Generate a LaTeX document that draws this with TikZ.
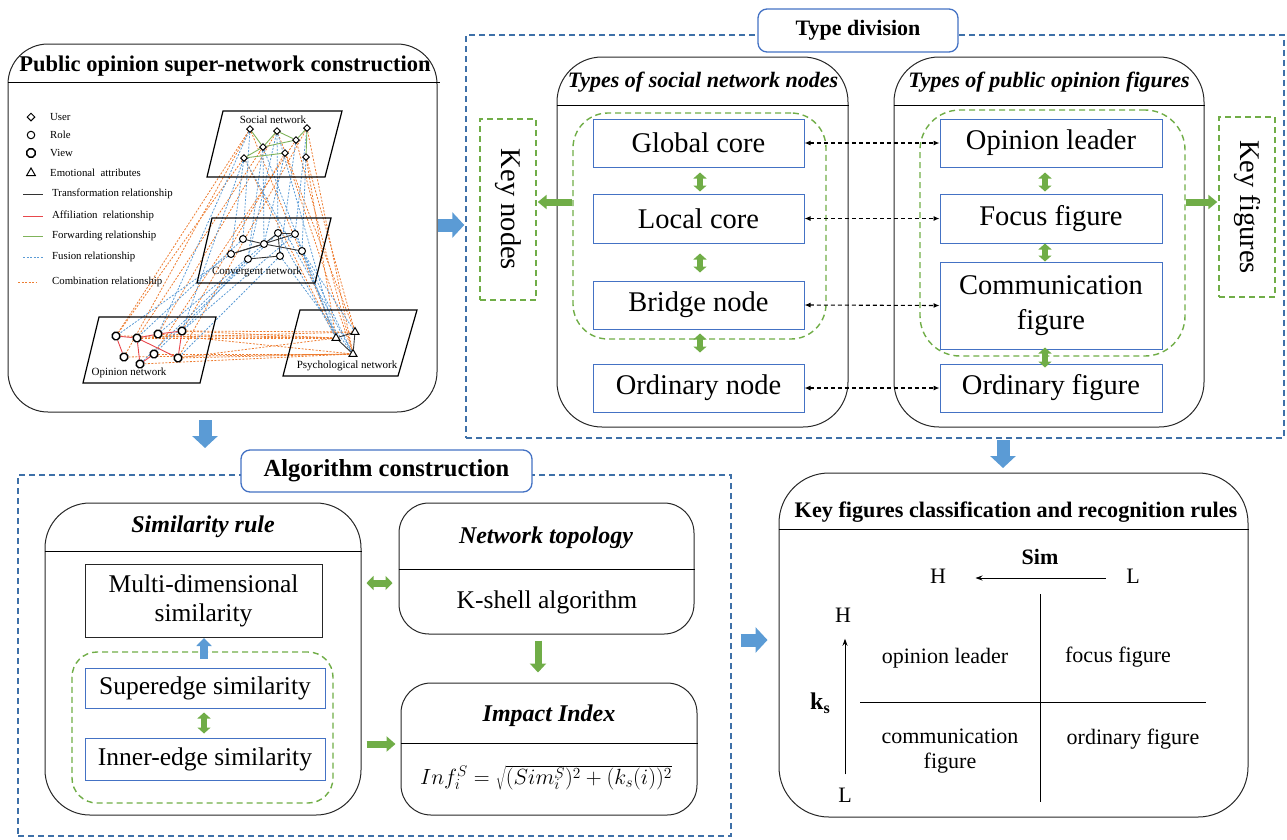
\RequirePackage{fix-cm}
\documentclass[tikz,border=0pt]{standalone}
\usepackage{fontspec}
\setmainfont{Liberation Serif}
\usetikzlibrary{shapes.geometric,arrows.meta,calc,backgrounds}

\definecolor{boxblue}{HTML}{4472C4}
\definecolor{frameblue}{HTML}{3E70A8}
\definecolor{fillblue}{HTML}{5B9BD5}
\definecolor{fillgreen}{HTML}{70AD47}
\definecolor{zonegreen}{HTML}{70AD47}
\definecolor{combo}{HTML}{ED7D31}
\definecolor{fusion}{HTML}{5B9BD5}
\definecolor{affil}{HTML}{E8474C}
\definecolor{forward}{HTML}{7FB35A}

\newcommand\szBox{\fontsize{28.5}{35}\selectfont}
\newcommand\szAlgBox{\fontsize{25.5}{29}\selectfont}
\newcommand\szAlgHead{\fontsize{24}{28}\selectfont}
\newcommand\szPanelHead{\fontsize{22}{26}\selectfont}
\newcommand\szQuad{\fontsize{22}{25}\selectfont}
\newcommand\szNet{\fontsize{11}{13}\selectfont}
\newcommand\szLegend{\fontsize{10.8}{13}\selectfont}

\begin{document}
\begin{tikzpicture}[x=1pt,y=-1pt,
  panel/.style={draw=black!85, line width=1pt, rounded corners=#1, inner sep=0pt},
  bluebox/.style={draw=boxblue, line width=1pt, fill=white, inner sep=0pt, align=center, font=\szBox},
  algbox/.style={line width=1pt, fill=white, inner sep=0pt, align=center, font=\szAlgBox},
  greenzone/.style={draw=zonegreen, line width=1.4pt, dash pattern=on 6pt off 4pt, rounded corners=#1, inner sep=0pt},
  bluezone/.style={draw=frameblue, line width=1.4pt, dash pattern=on 6pt off 4pt, inner sep=0pt},
  headlabel/.style={draw=boxblue, line width=1.3pt, fill=white, rounded corners=9pt, inner sep=0pt},
  bluearrow/.style={draw=fillblue, line width=13pt, -{Triangle[width=25pt,length=12pt]}},
  greenarrow/.style={draw=fillgreen, line width=7pt, -{Triangle[width=14pt,length=8pt]}},
  greendouble/.style={draw=fillgreen, line width=6pt, {Triangle[width=13pt,length=6pt]}-{Triangle[width=13pt,length=6pt]}},
  linkarrow/.style={draw=black, line width=1.1pt, dash pattern=on 4pt off 3pt, {Latex[length=6pt,width=5pt]}-{Latex[length=6pt,width=5pt]}},
  planeedge/.style={draw=black, line width=1.2pt},
  usermark/.style={diamond, draw, line width=1pt, fill=white, inner sep=0pt, minimum size=8pt},
  rolemark/.style={circle, draw, line width=1pt, fill=white, inner sep=0pt, minimum size=7.5pt},
  viewmark/.style={regular polygon, regular polygon sides=8, draw, line width=1.4pt, fill=white, inner sep=0pt, minimum size=9pt},
  emomark/.style={regular polygon, regular polygon sides=3, draw, line width=1pt, fill=white, inner sep=0pt, minimum size=10pt},
  combline/.style={draw=combo, line width=0.8pt, dash pattern=on 2pt off 1.5pt},
  fusionline/.style={draw=fusion, line width=0.8pt, dash pattern=on 2pt off 1.5pt},
]
\useasboundingbox (0,0) rectangle (1287,839);

% ================= super-network construction =================
\node[panel=40pt, minimum width=429pt, minimum height=368pt] (P1) at (222.5,228) {};
\draw[line width=1pt] ($(P1.north west)+(0,39)$) -- ($(P1.north east)+(2,39)$);
\node[font=\fontsize{22.5}{26}\selectfont\bfseries] (P1t) at (225,66) {Public opinion super-network construction};

% legend
\node[usermark] (LU) at (31,117) {};
\node[rolemark] (LR) at (31,135) {};
\node[viewmark] (LV) at (31,153) {};
\node[emomark] (LE) at (31,173) {};
\foreach \t/\y [count=\i] in {User/117, Role/135, View/153, Emotional\ \ attributes/173}
  \node[anchor=west, font=\szLegend, inner sep=0pt] (LT\i) at (50,\y) {\t};
\draw[line width=1pt, black!80] (23,194) -- (43,194);
\draw[line width=1pt, affil] (23,216) -- (43,216);
\draw[line width=1pt, forward] (23,236) -- (43,236);
\draw[fusionline] (23,257) -- (43,257);
\draw[combline] (18,282) -- (37,282);
\foreach \t/\y [count=\i from 5] in {Transformation relationship/194, Affiliation\ \ relationship/216, Forwarding relationship/236, Fusion relationship/257, Combination relationship/282}
  \node[anchor=west, font=\szLegend, inner sep=0pt] (LT\i) at (52,\y) {\t};

% network planes
\draw[planeedge] (223,111) -- (342,111) -- (325,177) -- (207,177) -- cycle;
\draw[planeedge] (212,218) -- (331,218) -- (315,283) -- (197,283) -- cycle;
\draw[planeedge] (99,317) -- (216,317) -- (200,383) -- (83,383) -- cycle;
\draw[planeedge] (300,310) -- (417,310) -- (398,376) -- (283,376) -- cycle;
\node[font=\szNet] (Ls) at (273,120) {Social network};
\node[font=\szNet] (Lc) at (257,272) {Convergent network};
\node[font=\szNet] (Lo) at (129,373) {Opinion network};
\node[font=\szNet] (Lp) at (347,366) {Psychological network};

% network nodes
\foreach \n/\x/\y in {S1/250/129, S2/277/131, S3/307/128, S4/296/140, S5/263/147, S6/285/153, S7/244/158, S8/306/157}
  \node[usermark, minimum size=7pt] (\n) at (\x,\y) {};
\foreach \n/\x/\y in {C1/243/239, C2/264/244, C3/278/233, C4/295/234, C5/231/254, C6/248/259, C7/280/256, C8/302/251}
  \node[rolemark, minimum size=7pt] (\n) at (\x,\y) {};
\foreach \n/\x/\y in {O1/116/336, O2/137/338, O3/158/334, O4/182/331, O5/124/357, O6/154/354, O7/140/364, O8/178/358}
  \node[viewmark, minimum size=8pt] (\n) at (\x,\y) {};
\foreach \n/\x/\y in {P1n/336/338, P2n/355/332, P3n/353/354}
  \node[emomark, minimum size=9pt] (\n) at (\x,\y) {};

\begin{pgfonlayer}{background}
  % combination relationships
  \foreach \a/\b in {S7/O1, S1/O1, S5/O2, S2/O3, S6/O4, S4/O6, S3/O8, S1/O5,
                     S1/P1n, S2/P2n, S3/P3n, S8/P1n, S8/P2n, S6/P3n, S4/P3n, S7/P1n,
                     O1/P1n, O2/P2n, O3/P1n, O4/P2n, O4/P1n, O8/P1n, O8/P3n, O6/P3n,
                     O7/P3n, O3/P3n, O2/P1n, O5/P3n}
    \draw[combline] (\a) -- (\b);
  % fusion relationships
  \foreach \a/\b in {S1/C1, S2/C3, S3/C4, S4/C7, S5/C2, S6/C2, S7/C5, S8/C8, S5/C6, S2/C6,
                     C1/O2, C2/O3, C5/O1, C6/O4, C3/O6, C7/O8, C4/O4, C6/O7,
                     C4/P1n, C8/P2n, C3/P1n, C7/P3n, C8/P3n,
                     S2/P1n, S5/P1n, S7/P3n, S1/O3, S7/O4}
    \draw[fusionline] (\a) -- (\b);
  % forwarding relationships
  \foreach \a/\b in {S1/S5, S2/S5, S2/S4, S5/S4, S4/S3, S3/S8, S7/S6, S7/S5}
    \draw[forward, line width=0.9pt] (\a) -- (\b);
  % transformation relationships
  \foreach \a/\b in {C1/C2, C2/C3, C3/C4, C3/C7, C5/C4, C6/C7, C2/C8, C5/C2, P1n/P2n, P2n/P3n, P1n/P3n}
    \draw[black!80, line width=0.9pt] (\a) -- (\b);
  % affiliation relationships
  \foreach \a/\b in {O1/O2, O1/O5, O2/O3, O3/O4, O4/O8, O2/O7, O7/O6, O2/O8}
    \draw[affil, line width=0.9pt] (\a) -- (\b);
\end{pgfonlayer}

% ================= type division =================
\node[bluezone, minimum width=818pt, minimum height=403pt] (TD) at (875,236.5) {};
\node[headlabel, minimum width=200pt, minimum height=43pt, font=\fontsize{22}{26}\selectfont\bfseries] (TDL) at (858,30.5) {Type division};

\node[panel=45pt, minimum width=291pt, minimum height=370pt] (TSN) at (702.5,242) {};
\draw[line width=1pt] ($(TSN.north west)+(0,49)$) -- ($(TSN.north east)+(0,49)$);
\node[font=\szPanelHead\bfseries\itshape] (TSNt) at (703,82) {Types of social network nodes};

\node[panel=45pt, minimum width=310pt, minimum height=370pt] (TPO) at (1049,242) {};
\draw[line width=1pt] ($(TPO.north west)+(0,49)$) -- ($(TPO.north east)+(0,49)$);
\node[font=\szPanelHead\bfseries\itshape] (TPOt) at (1049,82) {Types of public opinion figures};

\node[greenzone=35pt, minimum width=253pt, minimum height=226pt] (GL) at (699.5,226) {};
\node[greenzone=40pt, minimum width=265pt, minimum height=246pt] (GR) at (1052.5,233) {};

\node[bluebox, minimum width=211pt, minimum height=48pt] (GC) at (698.5,143) {Global core};
\node[bluebox, minimum width=211pt, minimum height=49pt] (LC) at (698.5,218.5) {Local core};
\node[bluebox, minimum width=211pt, minimum height=48pt] (BN) at (698.5,305) {Bridge node};
\node[bluebox, minimum width=211pt, minimum height=48pt] (ON) at (698.5,388) {Ordinary node};

\node[bluebox, minimum width=222pt, minimum height=48pt] (OL) at (1051,143) {Opinion leader};
\node[bluebox, minimum width=222pt, minimum height=49pt] (FF) at (1051,218.5) {Focus figure};
\node[bluebox, minimum width=222pt, minimum height=87pt] (CF) at (1051,305.5) {Communication\\figure};
\node[bluebox, minimum width=222pt, minimum height=48pt] (OF) at (1051,388) {Ordinary figure};

\node[greenzone=0pt, minimum width=56pt, minimum height=181pt] (KN) at (508,209.5) {};
\node[rotate=-90, font=\szBox] (KNt) at (KN.center) {Key nodes};
\node[greenzone=0pt, minimum width=56pt, minimum height=180pt] (KG) at (1247,207) {};
\node[rotate=-90, font=\szBox] (KGt) at (KG.center) {Key figures};

\coordinate (keyrow) at (0,202);
\draw[greenarrow, line width=7pt, -{Triangle[width=14pt,length=9pt]}] (GL.west |- keyrow) -- ($(KN.east |- keyrow)+(1,0)$);
\draw[greenarrow, line width=7pt, -{Triangle[width=14pt,length=9pt]}] (GR.east |- keyrow) -- ($(KG.west |- keyrow)+(-1,0)$);

\draw[greendouble] ([xshift=1.5pt,yshift=-5pt]GC.south) -- ([xshift=1.5pt,yshift=2pt]LC.north);
\draw[greendouble] ([xshift=1.5pt,yshift=-10pt]LC.south) -- ([xshift=1.5pt,yshift=8pt]BN.north);
\draw[greendouble] ([xshift=1.5pt,yshift=-4pt]BN.south) -- ([xshift=1.5pt,yshift=11pt]ON.north);
\draw[greendouble] ([xshift=-6pt,yshift=-5pt]OL.south) -- ([xshift=-6pt,yshift=2pt]FF.north);
\draw[greendouble] ([xshift=-6pt,yshift=0pt]FF.south) -- ([xshift=-6pt,yshift=0pt]CF.north);
\draw[greendouble] ([xshift=-6pt,yshift=2pt]CF.south) -- ([xshift=-6pt,yshift=-4pt]OF.north);

\draw[linkarrow] (GC.east) -- (OL.west);
\draw[linkarrow] (LC.east) -- (FF.west);
\draw[linkarrow] (BN.east) -- (CF.west);
\draw[linkarrow] (ON.east) -- (OF.west);

% ================= algorithm construction =================
\node[bluezone, minimum width=713pt, minimum height=361pt] (AC) at (374.5,655.5) {};
\node[headlabel, minimum width=291pt, minimum height=42pt, font=\fontsize{24.5}{28}\selectfont\bfseries] (AL) at (386.5,471) {Algorithm construction};

\node[panel=45pt, minimum width=316pt, minimum height=312pt] (SR) at (203,659) {};
\draw[line width=1pt] ($(SR.north west)+(0,49)$) -- ($(SR.north east)+(0,49)$);
\node[font=\szAlgHead\bfseries\itshape] (SRt) at (203,527) {Similarity rule};
\node[algbox, draw=black!85] (MD) at (203.5,600.5) [minimum width=237pt, minimum height=73pt] {Multi-dimensional\\similarity};
\node[greenzone=25pt, minimum width=261pt, minimum height=151pt] (GS) at (202.5,727.5) {};
\node[algbox, draw=boxblue, minimum width=240pt, minimum height=40pt] (SE) at (205,688) {Superedge similarity};
\node[algbox, draw=boxblue, minimum width=240pt, minimum height=42pt] (IE) at (205,759) {Inner-edge similarity};

\node[panel=30pt, minimum width=295pt, minimum height=131pt] (NT) at (546.5,568.5) {};
\draw[line width=1pt] ($(NT.north west)+(0,67)$) -- ($(NT.north east)+(0,67)$);
\node[font=\szAlgHead\bfseries\itshape] (NTt) at (546,538) {Network topology};
\node[font=\szAlgBox] (KS) at (547,602) {K-shell algorithm};

\node[panel=30pt, minimum width=296pt, minimum height=132pt] (II) at (549,749) {};
\draw[line width=1pt] ($(II.north west)+(0,61)$) -- ($(II.north east)+(0,61)$);
\node[font=\szAlgHead\bfseries\itshape] (IIt) at (549,716) {Impact Index};
\node[font=\fontsize{22}{26}\selectfont, inner sep=0pt] (IIf) at (546,778) {$Inf_i^S=\sqrt{(Sim_i^S)^2+(k_s(i))^2}$};

\draw[draw=fillgreen, line width=7pt, {Triangle[width=14pt,length=7pt]}-{Triangle[width=14pt,length=7pt]}]
  ($(SR.east |- NT.west)+(5,14.5)$) -- ($(NT.west)+(-6,14.5)$);
\draw[greenarrow, -{Triangle[width=16pt,length=9pt]}] ($(NT.south)+(-8.5,6)$) -- ($(II.north)+(-11,-10)$);
\draw[greenarrow, -{Triangle[width=15pt,length=9pt]}] ($(SR.east |- II.west)+(5,-5)$) -- ($(II.west)+(-5,-5)$);
\draw[draw=fillblue, line width=8pt, -{Triangle[width=15pt,length=8pt]}] ($(MD.south)+(0.5,21)$) -- ($(MD.south)+(0.5,0.5)$);
\draw[greendouble] ($(SE.south)+(-1,4)$) -- ($(IE.north)+(-1,-4)$);

% ================= classification rules =================
\node[panel=50pt, minimum width=469pt, minimum height=344pt] (KF) at (1013.5,645) {};
\draw[line width=1pt] ($(KF.north west)+(0,57)$) -- ($(KF.north east)+(0,57)$);
\node[font=\fontsize{22.2}{26}\selectfont\bfseries] (KFt) at (1016,512) {Key figures classification and recognition rules};

\node[font=\szQuad\bfseries] (SimL) at (1040,557) {Sim};
\node[font=\szQuad] (Hx) at (938,576) {H};
\node[font=\szQuad] (Lx) at (1133,576) {L};
\draw[line width=0.9pt, -{Stealth[length=7pt,width=5pt]}] ($(Lx.west)+(-17,2)$) -- ($(Hx.east)+(26,2)$);
\draw[line width=0.9pt] (1040,594) -- (1040,802);
\draw[line width=0.9pt] (860,702) -- (1206,702);
\node[font=\szQuad] (Hy) at (843,615) {H};
\node[font=\szQuad] (Ly) at (845,795) {L};
\draw[line width=0.9pt, -{Stealth[length=7pt,width=5pt]}] ($(Ly.north)+(0,-10)$) -- ($(Hy.south)+(2,13)$);
\node[font=\fontsize{24}{28}\selectfont\bfseries] (ksL) at (820,703) {k\raisebox{-4pt}{\fontsize{16}{16}\selectfont\bfseries s}};
\node[font=\szQuad] (q1) at (945,658) {opinion leader};
\node[font=\szQuad] (q2) at (1118,657) {focus figure};
\node[font=\fontsize{22}{25}\selectfont, align=center] (q3) at (950,751) {communication\\figure};
\node[font=\szQuad] (q4) at (1133,739) {ordinary figure};

% ================= block arrows between stages =================
\coordinate (a1row) at (0,225);
\draw[bluearrow] (P1.east |- a1row) -- ($(TD.west |- a1row)+(-1,0)$);
\coordinate (a2s) at (205,420);
\coordinate (a2e) at (205,448);
\draw[bluearrow] (a2s) -- (a2e);
\coordinate (a3s) at (1003,440);
\coordinate (a3e) at (1003,468);
\draw[bluearrow] (a3s) -- (a3e);
\coordinate (a4row) at (0,640);
\draw[bluearrow] ($(AC.east |- a4row)+(9,0)$) -- ($(KF.west |- a4row)+(-11,0)$);

\end{tikzpicture}
\end{document}
